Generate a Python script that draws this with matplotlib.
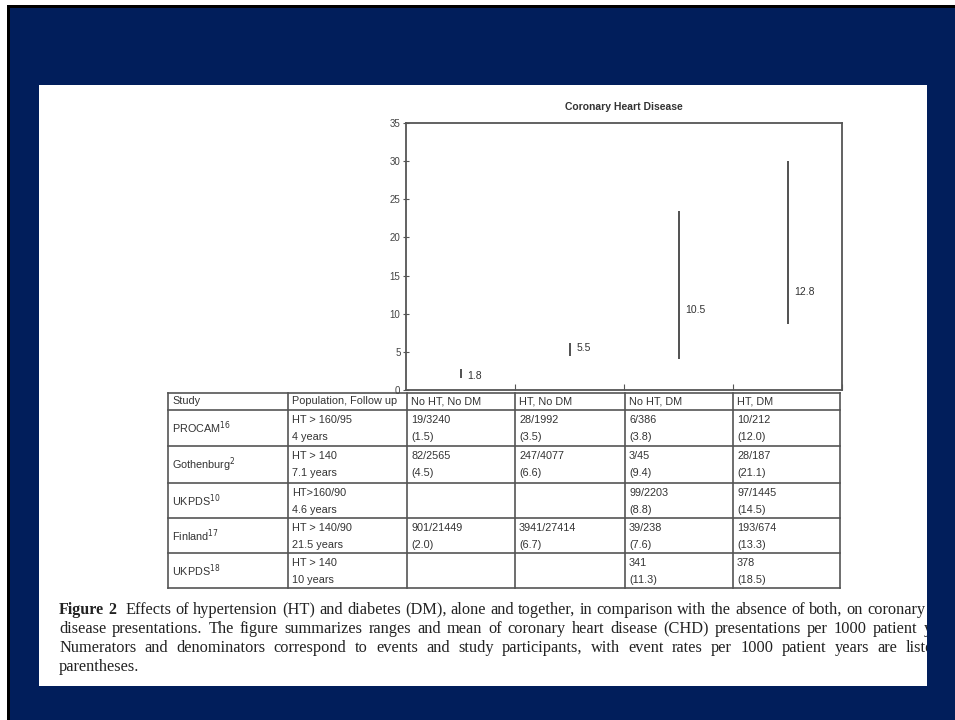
import matplotlib
matplotlib.use("Agg")
import matplotlib.pyplot as plt
from matplotlib.patches import Rectangle

plt.rcParams["font.family"] = ["Liberation Sans", "DejaVu Sans"]

# CHD presentations per 1000 patient years: range and mean by group
groups = ["No HT, No DM", "HT, No DM", "No HT, DM", "HT, DM"]
range_low = [1.6, 4.4, 4.1, 8.7]
range_high = [2.7, 6.1, 23.5, 30.0]
means = [1.8, 5.5, 10.5, 12.8]

header = ["Study", "Population, Follow up"] + groups
studies = [r"PROCAM$^{16}$", r"Gothenburg$^{2}$", r"UKPDS$^{10}$",
           r"Finland$^{17}$", r"UKPDS$^{18}$"]
populations = [("HT > 160/95", "4 years"), ("HT > 140", "7.1 years"),
               ("HT>160/90", "4.6 years"), ("HT > 140/90", "21.5 years"),
               ("HT > 140", "10 years")]
counts = [
    ["19/3240", "28/1992", "6/386", "10/212"],
    ["82/2565", "247/4077", "3/45", "28/187"],
    ["", "", "99/2203", "97/1445"],
    ["901/21449", "3941/27414", "39/238", "193/674"],
    ["", "", "341", "378"],
]
rates = [
    ["(1.5)", "(3.5)", "(3.8)", "(12.0)"],
    ["(4.5)", "(6.6)", "(9.4)", "(21.1)"],
    ["", "", "(8.8)", "(14.5)"],
    ["(2.0)", "(6.7)", "(7.6)", "(13.3)"],
    ["", "", "(11.3)", "(18.5)"],
]

caption = [
    "Effects of hypertension (HT) and diabetes (DM), alone and together, in comparison with the absence of both, on coronary heart",
    "disease presentations. The figure summarizes ranges and mean of coronary heart disease (CHD) presentations per 1000 patient years.",
    "Numerators and denominators correspond to events and study participants, with event rates per 1000 patient years are listed in",
    "parentheses.",
]

W, H = 955, 720
navy = "#011e5b"
ink = "#333333"

fig = plt.figure(figsize=(W / 100, H / 100), dpi=100, facecolor="white")

# page background in pixel units
bg = fig.add_axes([0, 0, 1, 1], zorder=0)
bg.set_xlim(0, W)
bg.set_ylim(H, 0)
bg.axis("off")
bg.add_patch(Rectangle((7, 5), W, H, color="black", lw=0))
bg.add_patch(Rectangle((10, 8), W, H, color=navy, lw=0))
bg.add_patch(Rectangle((39, 85), 888, 601, color="white", lw=0))

# range chart
ax = fig.add_axes([406 / W, 1 - 390 / H, 436 / W, 267 / H], zorder=2)
x = [i + 0.5 for i in range(len(groups))]
ax.vlines(x, range_low, range_high, color=ink, lw=1.2)
for xi, m in zip(x, means):
    ax.annotate(f"{m}", (xi, m), xytext=(5, 0), textcoords="offset points",
                fontsize=7.5, color=ink, va="center", ha="left")
ax.set_xlim(0, 4)
ax.set_ylim(0, 35)
ax.set_yticks(range(0, 36, 5))
ax.set_xticks([1, 2, 3, 4])
ax.set_xticklabels([])
ax.tick_params(axis="y", direction="inout", length=4, labelsize=7,
               labelcolor="#444444", color="#555555", pad=2)
ax.tick_params(axis="x", direction="in", length=4, color="#555555")
for s in ax.spines.values():
    s.set_color("#555555")
    s.set_linewidth(1.3)
ax.set_title("Coronary Heart Disease", fontsize=7.5, fontweight="bold",
             color=ink, pad=9)

# data table under the chart
col_edges = [168, 288, 407, 515, 625, 733, 840]
row_edges = [393, 410, 446, 483, 518, 553, 588]
tc = "#555555"
for cx in col_edges:
    bg.plot([cx, cx], [row_edges[0], row_edges[-1]], color=tc, lw=1.2)
for ry in row_edges:
    bg.plot([col_edges[0], col_edges[-1]], [ry, ry], color=tc, lw=1.2)

fs = 7.8
for j, h in enumerate(header):
    bg.text(col_edges[j] + 4, (row_edges[0] + row_edges[1]) / 2, h,
            fontsize=fs, color=ink, va="center", ha="left")
for i in range(len(studies)):
    top, bot = row_edges[i + 1], row_edges[i + 2]
    mid = (top + bot) / 2
    y1, y2 = top + 10, top + 27
    bg.text(col_edges[0] + 4, mid, studies[i], fontsize=fs, color=ink,
            va="center", ha="left")
    bg.text(col_edges[1] + 4, y1, populations[i][0], fontsize=fs, color=ink,
            va="center", ha="left")
    bg.text(col_edges[1] + 4, y2, populations[i][1], fontsize=fs, color=ink,
            va="center", ha="left")
    for k in range(4):
        bg.text(col_edges[k + 2] + 4, y1, counts[i][k], fontsize=fs,
                color=ink, va="center", ha="left")
        bg.text(col_edges[k + 2] + 4, y2, rates[i][k], fontsize=fs,
                color=ink, va="center", ha="left")

# caption, justified to a column wider than the page and cut at its edge
cap = fig.add_axes([39 / W, 1 - 686 / H, 888 / W, 96 / H], zorder=1)
cap.set_xlim(39, 927)
cap.set_ylim(686, 590)
cap.axis("off")
serif = "Liberation Serif"
cap_fs = 11.8
cap_color = "#222222"
line_y = [610, 629, 648, 667]
left, right = 59, 962
renderer = fig.canvas.get_renderer()
px_per_unit = cap.transData.transform((1, 0))[0] - cap.transData.transform((0, 0))[0]


def set_line(words, y, x0, justify, bold=False, size=cap_fs):
    arts = [cap.text(0, y, w, fontsize=size, family=serif,
                     fontweight="bold" if bold else "normal",
                     color=cap_color, va="center", ha="left", clip_on=True)
            for w in words]
    widths = [a.get_window_extent(renderer).width / px_per_unit for a in arts]
    space = size * 0.25 * 100 / 72 / px_per_unit
    gap = space
    if justify and len(words) > 1:
        gap = max(space, (right - x0 - sum(widths)) / (len(words) - 1))
    xx = x0
    for a, wd in zip(arts, widths):
        a.set_x(xx)
        xx += wd + gap


set_line(["Figure", "2"], line_y[0], left, False, bold=True, size=11.5)
set_line(caption[0].split(), line_y[0], 125, True)
set_line(caption[1].split(), line_y[1], left, True)
set_line(caption[2].split(), line_y[2], left, True)
set_line(caption[3].split(), line_y[3], left, False)

fig.savefig("out.png", dpi=100, facecolor="white")
